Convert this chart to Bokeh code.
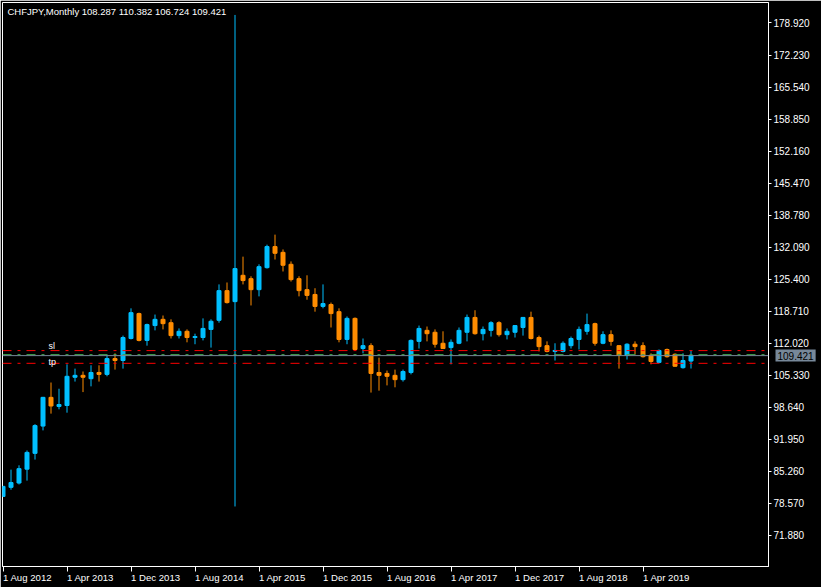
import numpy as np
from bokeh.plotting import figure
from bokeh.models import (Range1d, FixedTicker, NumeralTickFormatter, Span, Label,
                          ColumnDataSource)
from bokeh.embed import file_html
from bokeh.resources import INLINE

# ---------------- data ----------------
symbol_title = "CHFJPY,Monthly  108.287 110.382 106.724 109.421"
# monthly bars Aug 2012 .. Oct 2019 (index 0 .. 86)
opens = [80.0, 81.9, 82.8, 85.7, 89.0, 94.7, 100.7, 98.8, 99.0, 104.9,
         105.3, 104.6, 105.9, 105.5, 108.8, 108.4, 113.0, 118.2, 112.6, 115.7,
         117.0, 116.3, 113.6, 114.5, 113.2, 113.2, 114.9, 116.8, 123.0, 120.7,
         126.2, 125.5, 123.2, 127.8, 132.2, 131.0, 128.5, 125.5, 123.2, 122.2,
         119.7, 120.1, 118.6, 112.8, 117.2, 110.9, 111.5, 105.9, 105.7, 105.3,
         104.4, 105.9, 112.4, 114.7, 114.3, 112.0, 111.1, 112.0, 114.3, 117.4,
         114.0, 114.7, 116.3, 113.8, 114.3, 115.3, 117.4, 113.2, 111.5, 110.3,
         110.3, 111.5, 112.8, 114.5, 116.1, 112.0, 113.8, 111.5, 109.5, 111.8,
         111.5, 109.5, 108.0, 110.7, 109.7, 106.9, 108.287]
highs = [82.2, 85.6, 86.5, 89.6, 95.1, 100.8, 103.8, 102.5, 107.6, 106.7,
         106.1, 107.4, 107.4, 109.5, 109.9, 113.6, 119.3, 118.4, 116.1, 118.0,
         117.8, 117.0, 115.1, 114.9, 114.0, 117.2, 117.0, 124.3, 124.7, 180.6,
         130.1, 126.0, 128.5, 132.6, 134.7, 131.6, 129.1, 126.0, 126.2, 123.5,
         124.3, 120.5, 119.3, 117.6, 117.4, 113.0, 112.0, 109.0, 106.3, 106.5,
         106.5, 112.8, 115.7, 115.5, 114.9, 114.5, 112.8, 115.3, 118.0, 118.9,
         115.5, 116.6, 116.6, 115.1, 115.8, 117.5, 118.6, 113.6, 112.4, 112.0,
         112.4, 113.4, 115.5, 118.2, 116.3, 114.5, 114.7, 111.6, 112.0, 112.4,
         112.2, 109.9, 110.7, 110.9, 109.9, 109.9, 110.382]
lows = [79.9, 81.4, 82.5, 83.3, 87.7, 93.8, 97.3, 98.2, 97.5, 104.0,
        101.8, 103.0, 104.0, 105.1, 106.5, 106.7, 112.8, 112.4, 111.5, 114.7,
        114.9, 113.0, 113.0, 112.2, 111.8, 112.6, 111.1, 116.3, 120.3, 77.9,
        124.3, 119.9, 121.8, 127.6, 129.5, 127.0, 124.9, 121.8, 121.1, 118.6,
        119.3, 115.3, 112.2, 111.8, 110.5, 109.9, 101.7, 102.1, 103.2, 102.8,
        104.0, 105.5, 110.9, 112.4, 111.1, 110.8, 107.6, 111.8, 112.4, 113.8,
        112.6, 113.4, 113.4, 112.8, 113.2, 113.6, 112.8, 110.3, 110.1, 108.4,
        110.1, 110.9, 110.7, 113.8, 111.5, 111.8, 111.5, 106.7, 108.6, 109.7,
        109.0, 107.6, 107.9, 109.0, 107.1, 106.7, 106.724]
closes = [82.1, 82.9, 85.8, 89.2, 94.8, 100.7, 98.9, 99.2, 105.1, 105.3,
          104.9, 105.9, 105.5, 108.8, 108.4, 113.2, 118.4, 112.6, 115.9, 117.0,
          116.1, 113.6, 114.5, 113.2, 113.4, 115.1, 116.6, 123.0, 120.5, 127.6,
          125.1, 123.2, 128.0, 132.2, 130.8, 128.3, 125.3, 123.0, 122.0, 119.7,
          120.3, 118.2, 112.8, 117.2, 110.7, 111.5, 105.7, 105.3, 105.1, 104.4,
          106.1, 112.6, 115.1, 114.0, 111.8, 110.9, 112.2, 114.7, 117.4, 114.0,
          114.9, 116.3, 113.8, 114.5, 115.7, 117.4, 113.0, 111.3, 110.3, 110.5,
          112.0, 113.0, 114.9, 115.9, 112.0, 113.8, 112.4, 109.5, 111.8, 111.3,
          109.2, 108.2, 110.5, 109.2, 107.2, 108.4, 109.421]

x_tick_index = [0, 8, 16, 24, 32, 40, 48, 56, 64, 72, 80]
x_tick_labels = ["1 Aug 2012", "1 Apr 2013", "1 Dec 2013", "1 Aug 2014", "1 Apr 2015",
                 "1 Dec 2015", "1 Aug 2016", "1 Apr 2017", "1 Dec 2017", "1 Aug 2018",
                 "1 Apr 2019"]
y_tick_values = [71.88, 78.57, 85.26, 91.95, 98.64, 105.33, 112.02, 118.71, 125.40,
                 132.09, 138.78, 145.47, 152.16, 158.85, 165.54, 172.23, 178.92]

bid_price = 109.421
level_upper = 110.47    # red dash-dot
level_green = 109.63    # green dashed
level_lower = 107.81    # red dash-dot

# ---------------- styles ----------------
BULL = "#00BFFF"
BEAR = "#FF8C00"
FONT = "Liberation Sans"

o = np.array(opens); h = np.array(highs); l = np.array(lows); c = np.array(closes)
idx = np.arange(len(o))
colors = np.where(c >= o, BULL, BEAR)
src = ColumnDataSource(dict(x=idx, o=o, h=h, l=l, c=c,
                            top=np.maximum(o, c), bottom=np.minimum(o, c),
                            color=colors))

x_start = -0.0625
x_end = 95.6875
y_start = 65.36
y_end = 183.20

p = figure(frame_width=766, frame_height=564,
           x_range=Range1d(x_start, x_end), y_range=Range1d(y_start, y_end),
           y_axis_location="right",
           output_backend="svg", toolbar_location=None,
           min_border_left=2, min_border_top=2, min_border_right=53, min_border_bottom=21,
           background_fill_color="black", border_fill_color="black",
           outline_line_color="white", outline_line_width=1)
p.grid.visible = False

# horizontal levels
p.add_layout(Span(location=level_upper, dimension="width", line_color="#FF0000",
                  line_width=1, line_dash="9 6 3 6"))
p.add_layout(Span(location=level_lower, dimension="width", line_color="#FF0000",
                  line_width=1, line_dash="9 6 3 6"))
p.add_layout(Span(location=level_green, dimension="width", line_color="#3FA34D",
                  line_width=1, line_dash="9 6 3 6"))
p.add_layout(Span(location=bid_price, dimension="width", line_color="#778899",
                  line_width=1))

# candles
p.segment(x0="x", y0="l", x1="x", y1="h", source=src, line_color="color", line_width=1)
p.vbar(x="x", top="top", bottom="bottom", width=0.5, source=src,
       fill_color="color", line_color="color", line_width=1)

# axes
xa = p.xaxis[0]
xa.ticker = FixedTicker(ticks=x_tick_index)
xa.major_label_overrides = {t: s for t, s in zip(x_tick_index, x_tick_labels)}
xa.major_label_orientation = -1e-6   # tiny negative angle -> left aligned at tick
ya = p.yaxis[0]
ya.ticker = FixedTicker(ticks=y_tick_values)
ya.formatter = NumeralTickFormatter(format="0.000")
for ax in (xa, ya):
    ax.axis_line_color = "white"
    ax.major_tick_line_color = "white"
    ax.minor_tick_line_color = None
    ax.major_tick_in = 0
    ax.major_label_text_color = "white"
    ax.major_label_text_font = FONT
    ax.major_label_text_font_size = "10px"
xa.major_label_text_font_size = "9.6px"
xa.major_tick_out = 5
xa.major_label_standoff = 6
ya.major_tick_out = 3
ya.major_label_standoff = 2

# title text
p.add_layout(Label(x=x_start, y=y_end, x_offset=5, y_offset=-3, text=symbol_title,
                   text_color="white", text_font=FONT, text_font_size="9.5px",
                   text_baseline="top"))
# trade level markers
p.add_layout(Label(x=5.7, y=level_upper, text="sl", text_color="white",
                   text_font=FONT, text_font_size="9px", text_baseline="bottom"))
p.add_layout(Label(x=5.7, y=bid_price, y_offset=-1, text="tp", text_color="white",
                   text_font=FONT, text_font_size="9px", text_baseline="top"))
# bid price tag on the price scale (placed in the right side panel)
p.add_layout(Label(x=775, y=bid_price, x_units="canvas", text=f"{bid_price:.3f}",
                   text_color="black", text_font=FONT, text_font_size="10px",
                   text_baseline="middle", background_fill_color="#778899",
                   background_fill_alpha=1.0, padding=2), "right")

open("out.html", "w").write(file_html(p, INLINE))
